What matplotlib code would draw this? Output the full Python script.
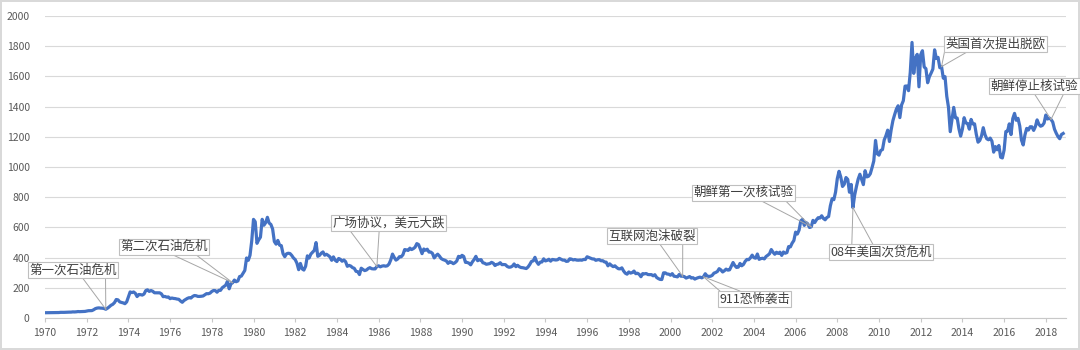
import matplotlib
matplotlib.use('Agg')
import matplotlib.pyplot as plt
import numpy as np

plt.rcParams['font.family'] = ['Noto Sans CJK SC', 'DejaVu Sans']

# month-end gold price (USD/oz), Jan 1970 .. Nov 2018
prices_1970s = [
    34.9, 35.0, 35.1, 35.6, 35.9, 35.4, 35.3, 35.4, 36.2, 37.5, 37.4, 37.4,
    38.0, 38.7, 38.9, 39.0, 40.5, 40.1, 41.0, 42.7, 42.0, 42.5, 42.9, 43.6,
    45.8, 48.3, 48.3, 49.0, 54.6, 62.1, 65.7, 67.0, 65.5, 64.9, 62.9, 58.0,
    65.1, 74.2, 84.4, 90.5, 102.0, 122.5, 120.2, 106.8, 103.0, 100.1, 94.8, 106.7,
    139.3, 172.5, 168.1, 172.3, 163.3, 142.0, 155.5, 154.6, 151.8, 158.8, 181.8, 186.5,
    176.0, 181.8, 177.1, 167.0, 167.0, 166.3, 166.7, 159.8, 141.3, 142.9, 138.2, 139.3,
    128.2, 132.3, 129.6, 128.4, 125.4, 123.8, 112.5, 104.0, 116.0, 123.2, 130.3, 134.5,
    132.3, 142.8, 148.9, 147.3, 143.0, 143.0, 144.1, 146.0, 154.1, 161.5, 160.5, 165.0,
    175.8, 182.3, 181.6, 170.9, 183.1, 183.1, 200.3, 208.7, 217.1, 242.6, 193.4, 226.0,
    233.7, 251.3, 240.1, 245.3, 274.6, 277.5, 296.5, 315.1, 397.3, 382.0, 415.7, 512.0,
]
prices_1980s = [
    653.0, 637.0, 494.5, 517.5, 535.5, 653.5, 614.3, 631.3, 666.8, 629.0, 619.8, 589.8,
    506.5, 489.0, 513.8, 482.8, 479.3, 426.0, 406.0, 425.0, 428.8, 427.0, 414.5, 397.5,
    387.0, 362.6, 320.0, 361.3, 325.3, 317.5, 342.9, 411.5, 397.0, 423.3, 436.0, 448.0,
    499.5, 408.5, 414.8, 429.3, 437.5, 416.0, 422.0, 414.3, 405.0, 382.0, 405.0, 382.4,
    373.8, 394.3, 388.5, 375.8, 384.3, 373.1, 342.4, 348.3, 343.8, 333.5, 329.0, 309.0,
    306.7, 287.8, 329.8, 321.4, 314.0, 317.8, 327.5, 333.3, 326.5, 325.1, 325.3, 340.8,
    345.5, 338.8, 344.0, 345.8, 343.2, 345.8, 357.5, 384.7, 423.2, 401.0, 383.5, 390.9,
    405.9, 405.3, 418.7, 453.3, 451.0, 447.3, 462.5, 453.4, 459.5, 468.8, 492.5, 486.5,
    458.0, 426.2, 456.9, 449.0, 455.5, 436.6, 436.8, 427.8, 397.8, 412.4, 422.6, 410.3,
    394.0, 387.0, 383.2, 377.6, 361.8, 373.0, 368.3, 359.8, 366.5, 377.6, 408.2, 401.0,
]
prices_1990s = [
    415.1, 407.7, 368.5, 367.8, 363.1, 352.2, 372.3, 387.8, 408.4, 379.5, 384.9, 386.2,
    366.0, 362.7, 355.7, 357.8, 360.4, 368.4, 362.9, 347.4, 354.9, 357.5, 366.3, 353.2,
    354.1, 353.1, 341.7, 336.4, 337.5, 343.4, 357.9, 340.0, 349.0, 339.2, 334.2, 333.0,
    330.5, 327.6, 337.8, 354.3, 374.8, 378.5, 401.8, 371.6, 355.5, 369.6, 370.9, 391.8,
    377.9, 381.6, 389.2, 376.5, 387.6, 385.8, 384.0, 385.8, 394.9, 389.1, 383.1, 383.3,
    374.9, 376.4, 392.0, 389.8, 384.3, 387.1, 383.4, 382.7, 384.0, 382.7, 387.8, 387.0,
    405.6, 400.7, 396.4, 391.3, 390.6, 382.0, 385.3, 386.5, 379.0, 379.5, 371.3, 369.6,
    345.5, 358.6, 348.2, 340.2, 345.6, 334.6, 326.4, 325.4, 332.1, 311.4, 296.8, 290.2,
    304.9, 297.4, 301.0, 310.7, 293.6, 296.3, 288.9, 273.4, 293.9, 292.3, 294.7, 287.8,
    287.1, 287.3, 279.5, 286.6, 268.6, 261.0, 255.6, 254.8, 299.0, 299.1, 291.4, 290.3,
]
prices_2000s = [
    283.3, 293.7, 276.8, 275.1, 272.3, 288.2, 276.8, 277.0, 273.7, 264.5, 269.1, 274.5,
    264.5, 266.7, 257.7, 263.2, 267.5, 270.6, 265.9, 273.0, 293.1, 278.8, 275.5, 276.5,
    282.3, 296.9, 301.4, 308.2, 326.6, 318.5, 304.7, 312.8, 323.7, 316.9, 319.1, 342.8,
    367.5, 347.5, 334.9, 336.8, 361.4, 346.0, 354.8, 375.6, 388.0, 386.3, 398.4, 416.3,
    399.8, 395.9, 423.7, 388.5, 393.3, 395.8, 391.4, 407.3, 415.7, 425.6, 453.4, 435.6,
    422.2, 435.5, 427.5, 435.7, 414.5, 437.1, 429.0, 433.3, 473.3, 470.8, 495.7, 513.0,
    568.8, 556.0, 582.0, 644.0, 653.0, 613.5, 632.5, 623.5, 599.3, 603.8, 646.7, 632.0,
    650.5, 664.2, 661.8, 677.0, 659.1, 650.5, 665.5, 672.0, 743.0, 789.5, 783.5, 833.8,
    923.3, 971.5, 933.5, 871.0, 885.8, 930.3, 918.0, 833.0, 884.5, 730.8, 814.5, 869.8,
    919.5, 952.0, 916.5, 883.3, 975.5, 934.5, 939.0, 955.5, 995.8, 1040.0, 1175.8, 1087.5,
]
prices_2010s = [
    1078.5, 1109.5, 1115.5, 1179.3, 1207.5, 1244.0, 1169.0, 1246.0, 1307.0, 1346.8, 1383.5, 1405.5,
    1327.0, 1411.0, 1439.0, 1535.5, 1536.5, 1505.5, 1628.5, 1825.0, 1620.0, 1722.0, 1746.0, 1531.0,
    1744.0, 1770.0, 1662.5, 1651.3, 1558.0, 1598.5, 1622.0, 1648.5, 1776.0, 1719.0, 1726.0, 1657.5,
    1664.8, 1588.5, 1598.3, 1469.0, 1394.5, 1234.0, 1314.5, 1394.8, 1326.5, 1324.0, 1253.0, 1204.5,
    1251.0, 1326.5, 1291.8, 1288.5, 1250.5, 1315.0, 1285.3, 1285.8, 1216.5, 1164.3, 1175.8, 1206.0,
    1260.3, 1214.0, 1187.0, 1180.3, 1191.4, 1171.0, 1098.4, 1135.0, 1114.0, 1142.4, 1065.0, 1060.0,
    1111.8, 1234.9, 1237.0, 1285.7, 1214.7, 1320.8, 1355.0, 1309.3, 1322.5, 1272.0, 1178.1, 1145.9,
    1212.8, 1255.6, 1244.9, 1266.5, 1266.2, 1242.3, 1267.6, 1311.8, 1283.1, 1270.1, 1274.9, 1291.0,
    1344.1, 1317.9, 1323.9, 1315.1, 1297.4, 1250.5, 1224.0, 1201.5, 1187.3, 1215.0, 1222.1,
]
prices = np.array(prices_1970s + prices_1980s + prices_1990s + prices_2000s + prices_2010s)
dates = 1970 + np.arange(len(prices)) / 12.0

tick_years = list(range(1970, 2019, 2))
y_ticks = list(range(0, 2001, 200))

# events: label, (year, month) of pointed value
event_labels = ['第一次石油危机', '第二次石油危机', '广场协议，美元大跌', '互联网泡沫破裂',
                '911恐怖袭击', '朝鲜第一次核试验', '08年美国次贷危机', '英国首次提出脱欧',
                '朝鲜停止核试验']
event_dates = [(1972, 12), (1979, 1), (1985, 12), (2000, 8), (2001, 8),
               (2006, 10), (2008, 10), (2013, 1), (2018, 4)]
# box centres (x in years, y in price units), which edge the leader leaves from, and where on it
box_centres = [(1971.34, 315), (1975.71, 473), (1986.47, 629), (1999.11, 540), (2004.03, 126),
               (2003.48, 831), (2010.10, 437), (2015.61, 1815), (2017.46, 1536)]
leader_edge = ['bottom', 'bottom', 'bottom', 'bottom', 'top', 'bottom', 'top', 'bottom', 'bottom']
leader_frac = [(0.61, 0.86), (0.59, 0.85), (0.17, 0.42), (0.59, 0.84), (0.03, 0.3),
               (0.67, 0.91), (0.22, 0.42), (0.0, 0.22), (0.5, 0.82)]

fig = plt.figure(figsize=(10.8, 3.5), dpi=100)
fig.patch.set_edgecolor('#D9D9D9')
fig.patch.set_linewidth(1.5)
ax = fig.add_axes([45 / 1080, 32 / 350, 1021 / 1080, 302 / 350])

ax.plot(dates, prices, color='#4472C4', lw=2.3, solid_joinstyle='round', zorder=3)

ax.set_xlim(1970, 1970 + 1021 / 20.85)
ax.set_ylim(0, 2000)
ax.set_xticks(tick_years)
ax.set_yticks(y_ticks)
ax.grid(axis='y', color='#D9D9D9', lw=0.8)
ax.set_axisbelow(True)
for s in ['top', 'right', 'left']:
    ax.spines[s].set_visible(False)
ax.spines['bottom'].set_color('#C8C8C8')
ax.spines['bottom'].set_linewidth(0.8)
ax.tick_params(axis='x', colors='#C8C8C8', length=3, width=0.8, labelcolor='#595959',
               labelsize=7.5, pad=4)
ax.tick_params(axis='y', length=0, labelcolor='#595959', labelsize=7.5, pad=11)

texts = []
for lab, (cx, cy) in zip(event_labels, box_centres):
    t = ax.text(cx, cy, lab, ha='center', va='center', fontsize=9, color='#404040',
                zorder=5, clip_on=False,
                bbox=dict(boxstyle='square,pad=0.12', fc='white', ec='#BFBFBF', lw=0.8))
    texts.append(t)

fig.canvas.draw()
inv = ax.transData.inverted()
for t, (yr, mo), edge, (f1, f2) in zip(texts, event_dates, leader_edge, leader_frac):
    i = (yr - 1970) * 12 + mo - 1
    tip = (dates[i], prices[i])
    bb = t.get_bbox_patch().get_window_extent()
    by = bb.y0 if edge == 'bottom' else bb.y1
    for f in (f1, f2):
        base = inv.transform((bb.x0 + f * bb.width, by))
        ax.plot([base[0], tip[0]], [base[1], tip[1]], color='#A6A6A6', lw=0.7,
                zorder=4, clip_on=False)

fig.savefig('out.png', dpi=100, edgecolor=fig.get_edgecolor())
